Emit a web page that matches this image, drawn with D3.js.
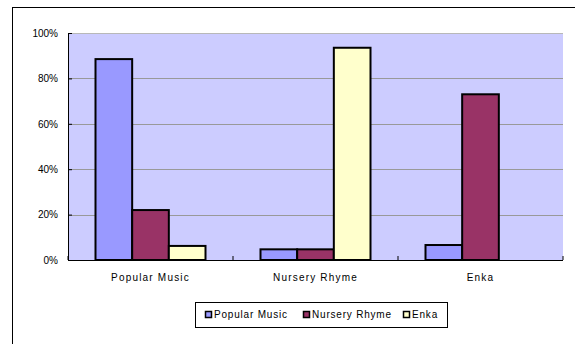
<!DOCTYPE html>
<html>
<head>
<meta charset="utf-8">
<script src="https://cdn.jsdelivr.net/npm/d3@7"></script>
<style>
  body { margin: 0; background: #fff; }
  text { font-family: "Liberation Sans", Arial, sans-serif; fill: #000; }
</style>
</head>
<body>
<svg id="chart" width="575" height="344"></svg>
<script>
// data
const categories = ['Popular Music', 'Nursery Rhyme', 'Enka']
const seriesNames = ['Popular Music', 'Nursery Rhyme', 'Enka']
const popularMusic = [0.885, 0.047, 0.066]
const nurseryRhyme = [0.22, 0.047, 0.73]
const enka = [0.062, 0.935, 0]
const yTicks = [0, 0.2, 0.4, 0.6, 0.8, 1.0]
const colors = ['#9999FF', '#993366', '#FFFFCC']

const series = [popularMusic, nurseryRhyme, enka]

const svg = d3.select('#chart')

// outer chart border (right/bottom fall outside the picture)
svg.append('rect')
    .attr('x', 12.5).attr('y', 7.5)
    .attr('width', 600).attr('height', 400)
    .attr('fill', '#fff')
    .attr('stroke', '#000')
    .attr('stroke-width', 1)

const plot = { left: 68, top: 33, right: 563, bottom: 260 }

const x = d3.scaleBand()
    .domain(categories)
    .range([plot.left, plot.right])
    .paddingInner(0)
    .paddingOuter(0)

const y = d3.scaleLinear()
    .domain([0, 1])
    .range([plot.bottom, plot.top])

// plot area
svg.append('rect')
    .attr('x', plot.left).attr('y', plot.top)
    .attr('width', plot.right - plot.left)
    .attr('height', plot.bottom - plot.top)
    .attr('fill', '#CCCCFF')

// gridlines
svg.selectAll('.grid')
    .data(yTicks.filter(d => d > 0))
    .enter().append('line')
    .attr('class', 'grid')
    .attr('x1', plot.left).attr('x2', plot.right)
    .attr('y1', d => Math.round(y(d)) + 0.5)
    .attr('y2', d => Math.round(y(d)) + 0.5)
    .attr('stroke', d => d == 1 ? '#b8b8b8' : '#999')
    .attr('stroke-width', 1)

// bars: gap width 150% of bar width
const groupWidth = x.bandwidth()
const barWidth = groupWidth / (series.length + 1.5)
const gap = (groupWidth - barWidth * series.length) / 2

series.forEach((vals, s) => {
    svg.selectAll('.bar-' + s)
        .data(vals)
        .enter().append('rect')
        .attr('class', 'bar-' + s)
        .attr('x', (d, i) => x(categories[i]) + gap + s * barWidth)
        .attr('y', d => y(d))
        .attr('width', barWidth)
        .attr('height', d => y(0) - y(d))
        .attr('fill', colors[s])
        .attr('stroke', '#000')
        .attr('stroke-width', d => d > 0 ? 2 : 0)
})

// y axis
const yAxis = d3.axisLeft(y)
    .tickValues(yTicks)
    .tickFormat(d3.format('.0%'))
    .tickSizeInner(-4)
    .tickSizeOuter(0)
    .tickPadding(10)

const yG = svg.append('g')
    .attr('transform', `translate(${plot.left},0)`)
    .call(yAxis)
yG.select('.domain').attr('stroke', '#000')
yG.selectAll('.tick line').attr('stroke', '#000')
yG.selectAll('text')
    .style('font-family', '"Liberation Sans", Arial, sans-serif')
    .style('font-size', '10px')
    .attr('fill', '#000')

// x axis: ticks at category boundaries, pointing up
const xG = svg.append('g')
    .attr('transform', `translate(0,${plot.bottom})`)
xG.append('line')
    .attr('x1', plot.left).attr('x2', plot.right)
    .attr('y1', 0.5).attr('y2', 0.5)
    .attr('stroke', '#000')
const bounds = categories.map(c => x(c)).concat([x(categories[categories.length - 1]) + x.bandwidth()])
xG.selectAll('.xtick')
    .data(bounds)
    .enter().append('line')
    .attr('x1', d => d).attr('x2', d => d)
    .attr('y1', 0).attr('y2', -4)
    .attr('stroke', '#000')
xG.selectAll('.xlabel')
    .data(categories)
    .enter().append('text')
    .attr('x', d => x(d) + x.bandwidth() / 2)
    .attr('y', 21)
    .attr('text-anchor', 'middle')
    .style('font-size', '10px')
    .style('letter-spacing', '1.2px')
    .text(d => d)

// legend
const legend = svg.append('g')
legend.append('rect')
    .attr('x', 195.5).attr('y', 302.5)
    .attr('width', 252).attr('height', 25)
    .attr('fill', '#fff')
    .attr('stroke', '#000')
const legendX = [205, 303, 403]
seriesNames.forEach((name, i) => {
    legend.append('rect')
        .attr('x', legendX[i] + 0.5).attr('y', 311.5)
        .attr('width', 6).attr('height', 6)
        .attr('fill', colors[i])
        .attr('stroke', '#000')
        .attr('stroke-width', 1.5)
    legend.append('text')
        .attr('x', legendX[i] + 9)
        .attr('y', 318)
        .style('font-size', '10px')
        .style('letter-spacing', '0.8px')
        .text(name)
})
</script>
</body>
</html>
